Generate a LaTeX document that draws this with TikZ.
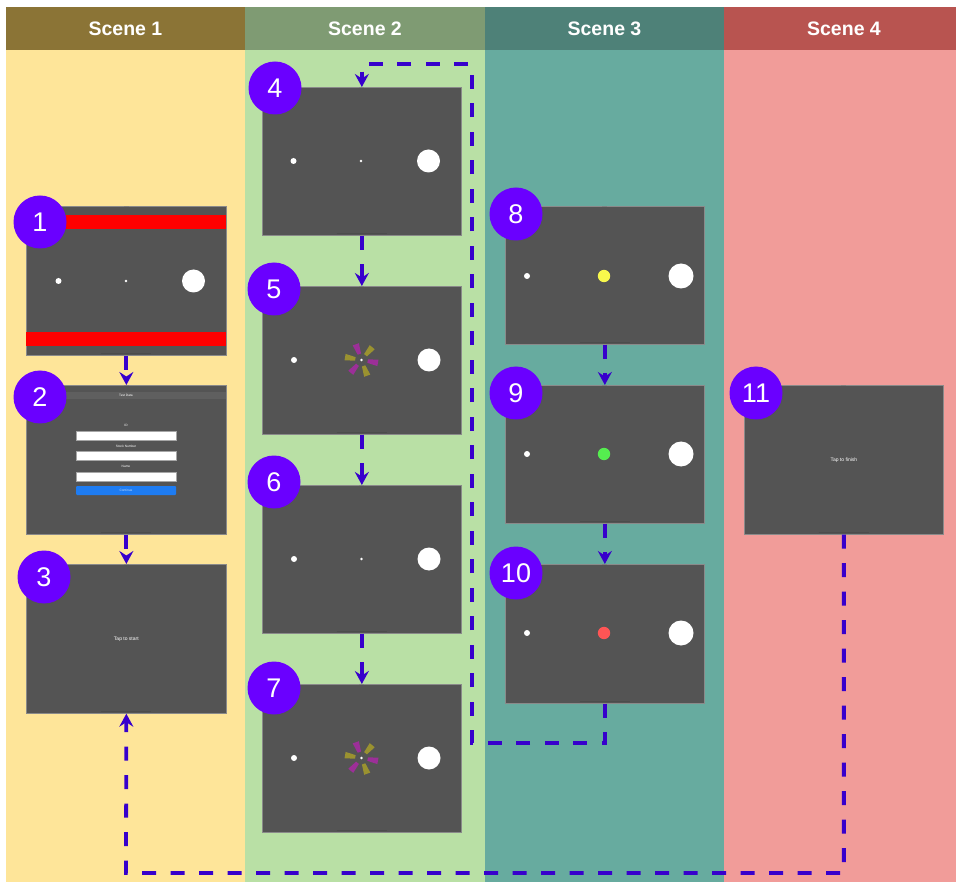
\documentclass[tikz,border=0pt]{standalone}
\usepackage{fontspec}
\setmainfont{Liberation Sans}
\usetikzlibrary{arrows.meta}

\definecolor{hdA}{HTML}{8B7436}
\definecolor{bdA}{HTML}{FEE599}
\definecolor{hdB}{HTML}{7F9B73}
\definecolor{bdB}{HTML}{B9E0A5}
\definecolor{hdC}{HTML}{4E8178}
\definecolor{bdC}{HTML}{67AB9F}
\definecolor{hdD}{HTML}{B85450}
\definecolor{bdD}{HTML}{F19C99}
\definecolor{scr}{HTML}{545454}
\definecolor{scrEdge}{HTML}{8A8A8A}
\definecolor{barc}{HTML}{5F5F5F}
\definecolor{badgec}{HTML}{6A00FF}
\definecolor{flowc}{HTML}{3700CC}
\definecolor{wedgeM}{HTML}{9C2F98}
\definecolor{wedgeO}{HTML}{9A9230}
\definecolor{dotY}{HTML}{F8F84C}
\definecolor{dotG}{HTML}{55EE4F}
\definecolor{dotR}{HTML}{FF5555}
\definecolor{btnc}{HTML}{1E7CF2}

\tikzset{
  hdr/.style={text=white, font=\bfseries\fontsize{19.5}{21}\selectfont},
  screen/.style={rectangle, fill=scr, draw=scrEdge, line width=0.7pt, inner sep=0pt, anchor=north west},
  homebar/.style={draw=black!70, line width=1pt},
  notch/.style={fill=white!25!scr},
  badge/.style={circle, fill=badgec, text=white, inner sep=0pt, minimum size=53pt,
    font=\fontsize{27}{27}\selectfont},
  tinytxt/.style={text=white, font=\fontsize{5}{5}\selectfont, inner sep=0pt},
  formtxt/.style={text=white, font=\fontsize{3.2}{3.2}\selectfont, inner sep=0pt},
  field/.style={fill=white, draw=black!35, line width=0.4pt},
  flow/.style={draw=flowc, line width=3.8pt, dash pattern=on 14pt off 14.5pt,
    -{Stealth[length=13pt, width=14pt, inset=4.5pt]}},
}

% device screen: name, left, top, width, height
\newcommand\phone[5]{%
  \node[screen, minimum width=#4pt, minimum height=#5pt] (#1) at (#2,#3) {};
  \draw[homebar] ([xshift=-25pt,yshift=2.5pt]#1.south) -- ([xshift=25pt,yshift=2.5pt]#1.south);
  \fill[notch] ([xshift=-2.5pt]#1.north) rectangle ([xshift=2.5pt,yshift=-1.3pt]#1.north);
}

% three balls: centre point, spacing, middle colour, middle radius
\newcommand\balls[5]{%
  \fill[white] (#1-#3,#2) circle[radius=3pt];
  \fill[#4] (#1,#2) circle[radius=#5pt];
  \fill[white] (#1+#3,#2) circle[radius=11.5pt];
}

% loading spinner around a point
\newcommand\spinner[2]{%
  \begin{scope}[shift={(#1,#2)}]
    \foreach \a/\c in {110/wedgeM, 50/wedgeO, -10/wedgeM, -70/wedgeO, -130/wedgeM, 170/wedgeO}{
      \fill[\c] (-\a-16:6.5) -- (-\a+16:6.5) -- (-\a+11:17) -- (-\a-11:17) -- cycle;
    }
    \fill[white] (0,0) circle[radius=1.4pt];
  \end{scope}
}

\begin{document}
\begin{tikzpicture}[x=1pt, y=-1pt]
  \useasboundingbox (0,0) rectangle (956,882);
  \fill[white] (0,0) rectangle (956,882);

  % scene columns
  \fill[hdA] (6,7) rectangle (245,50);   \fill[bdA] (6,50) rectangle (245,882);
  \fill[hdB] (245,7) rectangle (485,50); \fill[bdB] (245,50) rectangle (485,882);
  \fill[hdC] (485,7) rectangle (724,50); \fill[bdC] (485,50) rectangle (724,882);
  \fill[hdD] (724,7) rectangle (956,50); \fill[bdD] (724,50) rectangle (956,882);
  \node[hdr] (h1) at (125.5,29) {Scene 1};
  \node[hdr] (h2) at (365,29) {Scene 2};
  \node[hdr] (h3) at (604.5,29) {Scene 3};
  \node[hdr] (h4) at (844,29) {Scene 4};

  % screens
  \phone{s1}{26}{206}{200}{149}
  \phone{s2}{26}{385}{200}{149}
  \phone{s3}{26}{564}{200}{149}
  \phone{s4}{262}{87}{199}{148}
  \phone{s5}{262}{286}{199}{148}
  \phone{s6}{262}{485}{199}{148}
  \phone{s7}{262}{684}{199}{148}
  \phone{s8}{505}{206}{199}{138}
  \phone{s9}{505}{385}{199}{138}
  \phone{s10}{505}{564}{199}{139}
  \phone{s11}{744}{385}{199}{149}

  % screen 1: game field with red bars
  \fill[red] (26,215) rectangle (226,229);
  \fill[red] (26,332) rectangle (226,346);
  \balls{126}{281}{67.5}{white}{1.4}

  % screen 2: entry form
  \fill[barc] (26,392) rectangle (226,399);
  \node[formtxt] (t2) at (126,395.5) {Test Data};
  \node[formtxt] (l1) at (126,425) {ID};
  \draw[field] (76,431) rectangle (176,440);
  \node[formtxt] (l2) at (126,446) {Stock Number};
  \draw[field] (76,451) rectangle (176,460);
  \node[formtxt] (l3) at (126,466.5) {Name};
  \draw[field] (76,472) rectangle (176,481);
  \fill[btnc, rounded corners=1pt] (76,486) rectangle (176,495);
  \node[formtxt, text=white!75!btnc] (bt) at (126,490.5) {Continue};

  % screen 3
  \node[tinytxt] (tap1) at (s3.center) {Tap to start};

  % scene 2 screens
  \balls{361}{161}{67.5}{white}{1.4}
  \balls{361.5}{360}{67.5}{white}{0}
  \spinner{361.5}{360}
  \balls{361.5}{559}{67.5}{white}{1.4}
  \balls{361.5}{758}{67.5}{white}{0}
  \spinner{361.5}{758}

  % scene 3 screens
  \fill[white] (527,276) circle[radius=3pt];
  \fill[dotY] (604,276) circle[radius=6.2pt];
  \fill[white] (681,276) circle[radius=12.5pt];
  \fill[white] (527,454) circle[radius=3pt];
  \fill[dotG] (604,454) circle[radius=6.2pt];
  \fill[white] (681,454) circle[radius=12.5pt];
  \fill[white] (527,633) circle[radius=3pt];
  \fill[dotR] (604,633) circle[radius=6.2pt];
  \fill[white] (681,633) circle[radius=12.5pt];

  % screen 11
  \node[tinytxt] (tap2) at (s11.center) {Tap to finish};

  % step badges
  \node[badge] (b1) at (40,222) {1};
  \node[badge] (b2) at (40,397) {2};
  \node[badge] (b3) at (44,577) {3};
  \node[badge] (b4) at (275,88) {4};
  \node[badge] (b5) at (274,289) {5};
  \node[badge] (b6) at (274,482) {6};
  \node[badge] (b7) at (274,688) {7};
  \node[badge] (b8) at (516,214) {8};
  \node[badge] (b9) at (516,393) {9};
  \node[badge] (b10) at (516,573) {10};
  \node[badge] (b11) at (756,393) {11};

  % flow connectors
  \draw[flow] (s1.south) -- (s2.north);
  \draw[flow] (s2.south) -- (s3.north);
  \draw[flow] (s4.south) -- (s5.north);
  \draw[flow] (s5.south) -- (s6.north);
  \draw[flow] (s6.south) -- (s7.north);
  \draw[flow] (s8.south) -- (s9.north);
  \draw[flow] (s9.south) -- (s10.north);

  \coordinate (la) at (472,743);
  \coordinate (lb) at (472,64);
  \draw[flow] (s10.south) |- (la) -- (lb) -| (s4.north);

  \coordinate (lc) at (126,873);
  \draw[flow] (s11.south) |- (lc) -- (s3.south);
\end{tikzpicture}
\end{document}
